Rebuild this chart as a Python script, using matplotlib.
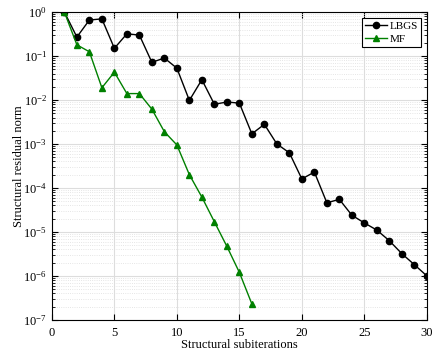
import matplotlib
matplotlib.use("Agg")
import matplotlib.pyplot as plt
from matplotlib.ticker import LogLocator, MultipleLocator, NullFormatter

plt.rcParams['font.family'] = 'Liberation Serif'
plt.rcParams['mathtext.fontset'] = 'custom'
plt.rcParams['mathtext.rm'] = 'Liberation Serif'
plt.rcParams['mathtext.it'] = 'Liberation Serif:italic'

# data
it_lbgs = list(range(1, 31))
res_lbgs = [1.0, 0.27, 0.66, 0.70, 0.15, 0.32, 0.30, 0.072, 0.09, 0.053,
            0.0098, 0.029, 0.008, 0.009, 0.0085, 0.0017, 0.0028, 0.001, 0.00063, 0.00016,
            0.00023, 4.6e-5, 5.5e-5, 2.4e-5, 1.6e-5, 1.1e-5, 6.3e-6, 3.2e-6, 1.8e-6, 1.0e-6]
it_mf = list(range(1, 17))
res_mf = [1.0, 0.18, 0.125, 0.019, 0.043, 0.014, 0.014, 0.0062, 0.0019, 0.00095,
          0.0002, 6.2e-5, 1.7e-5, 4.7e-6, 1.2e-6, 2.3e-7]

fig = plt.figure(figsize=(4.36, 3.55), dpi=100)
ax = fig.add_axes([0.119, 0.099, 0.860, 0.867])

ax.semilogy(it_lbgs, res_lbgs, '-o', color='black', lw=1.0, ms=4.5, label='LBGS')
ax.semilogy(it_mf, res_mf, '-^', color='green', lw=1.0, ms=4.5, label='MF')

ax.set_xlim(0, 30)
ax.set_ylim(1e-7, 1)
ax.xaxis.set_major_locator(MultipleLocator(5))
ax.yaxis.set_major_locator(LogLocator(base=10, numticks=10))
ax.yaxis.set_minor_locator(LogLocator(base=10, subs=range(2, 10), numticks=10))
ax.yaxis.set_minor_formatter(NullFormatter())

ax.grid(True, which='major', color='#dddddd', lw=0.8)
ax.grid(True, which='minor', axis='y', color='#dddddd', lw=0.6, ls=':')
ax.set_axisbelow(True)
ax.tick_params(which='both', direction='in', top=True, right=True, labelsize=9)
ax.tick_params(which='major', length=4)
ax.tick_params(which='minor', length=2)
ax.tick_params(axis='x', pad=5)
for s in ax.spines.values():
    s.set_linewidth(0.8)

ax.set_xlabel('Structural subiterations', fontsize=9, labelpad=0)
ax.set_ylabel('Structural residual norm', fontsize=9, labelpad=-1)

leg = ax.legend(loc='upper right', fontsize=8, fancybox=False, framealpha=1,
                edgecolor='black', handlelength=2.0, borderpad=0.3, labelspacing=0.3,
                handletextpad=0.2, borderaxespad=0.5)
leg.get_frame().set_linewidth(0.8)

fig.savefig('out.png', dpi=100)
